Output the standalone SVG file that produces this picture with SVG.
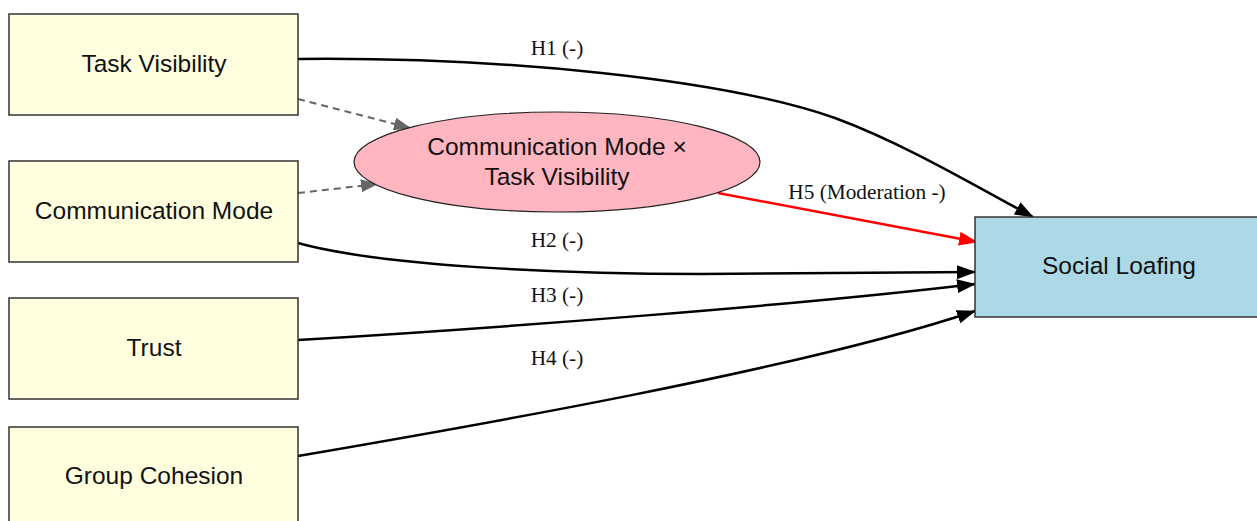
<svg xmlns="http://www.w3.org/2000/svg" width="1257" height="521" viewBox="0 0 1257 521">
<style>
.box{fill:#FFFFE0;stroke:#333;stroke-width:1.5}
.out{fill:#ADD8E6;stroke:#333;stroke-width:1.5}
.ell{fill:#FFB6C1;stroke:#222;stroke-width:1.2}
.nt{font-family:"Liberation Sans",Arial,sans-serif;font-size:24.5px;fill:#111;text-anchor:middle}
.lbl{font-family:"Liberation Serif","Times New Roman",serif;font-size:21.3px;fill:#111;text-anchor:middle}
.e{fill:none;stroke:#000;stroke-width:2.5}
.red{fill:none;stroke:#F00;stroke-width:2.5}
.dash{fill:none;stroke:#666;stroke-width:2;stroke-dasharray:7,5}
</style>
<defs>
<marker id="ab" markerWidth="19" markerHeight="14" refX="18" refY="7" orient="auto" markerUnits="userSpaceOnUse"><path d="M0,0 L19,7 L0,14 Z" fill="#000"/></marker>
<marker id="ar" markerWidth="19" markerHeight="14" refX="18" refY="7" orient="auto" markerUnits="userSpaceOnUse"><path d="M0,0 L19,7 L0,14 Z" fill="#F00"/></marker>
<marker id="ag" markerWidth="17" markerHeight="13" refX="16" refY="6.5" orient="auto" markerUnits="userSpaceOnUse"><path d="M0,0 L17,6.5 L0,13 Z" fill="#666"/></marker>
</defs>
<rect width="1257" height="521" fill="#fff"/>
<g id="connectors">
<path class="e" d="M298,59 C500,57 720,78 835,118 C900,142 965,180 1033,217" marker-end="url(#ab)"/>
<path class="e" d="M298,243 C380,266 560,274 700,274 C800,274 900,273 975,272" marker-end="url(#ab)"/>
<path class="e" d="M298,340 C500,328 800,305 975,284" marker-end="url(#ab)"/>
<path class="e" d="M298,456 C450,430 800,370 975,311" marker-end="url(#ab)"/>
<path class="red" d="M718,193 L977,242" marker-end="url(#ar)"/>
<path class="dash" d="M298,99 L410,128" marker-end="url(#ag)"/>
<path class="dash" d="M298,193 L377,184" marker-end="url(#ag)"/>
<text class="lbl" x="557" y="55">H1 (-)</text>
<text class="lbl" x="557" y="247">H2 (-)</text>
<text class="lbl" x="557" y="302">H3 (-)</text>
<text class="lbl" x="557" y="365">H4 (-)</text>
<text class="lbl" x="867" y="199">H5 (Moderation -)</text>
</g>
<g id="task_visibility"><rect class="box" x="9" y="14" width="289" height="101"/><text class="nt" x="154" y="72">Task Visibility</text></g>
<g id="communication_mode"><rect class="box" x="9" y="161" width="289" height="101"/><text class="nt" x="154" y="219">Communication Mode</text></g>
<g id="trust"><rect class="box" x="9" y="298" width="289" height="101"/><text class="nt" x="154" y="356">Trust</text></g>
<g id="group_cohesion"><rect class="box" x="9" y="427" width="289" height="101"/><text class="nt" x="154" y="484">Group Cohesion</text></g>
<g id="interaction"><ellipse class="ell" cx="557" cy="162" rx="203" ry="50"/><text class="nt" x="557" y="155">Communication Mode ×</text><text class="nt" x="557" y="185">Task Visibility</text></g>
<g id="social_loafing"><rect class="out" x="975" y="217" width="289" height="100"/><text class="nt" x="1119" y="274">Social Loafing</text></g>
</svg>
